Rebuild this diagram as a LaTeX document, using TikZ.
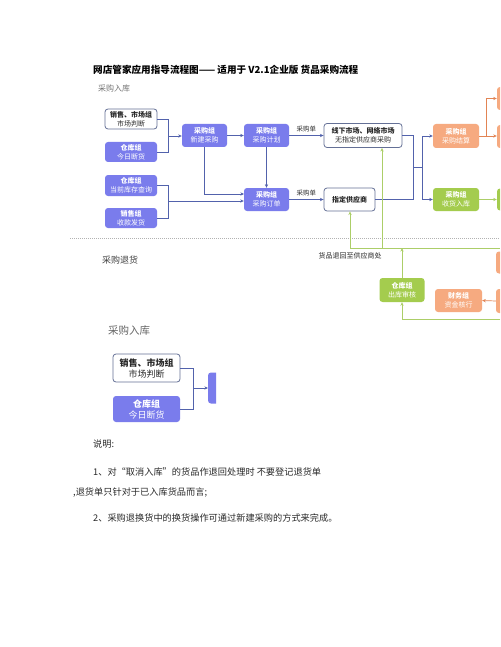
\documentclass[tikz,border=0pt]{standalone}
\usepackage{fontspec}
\setmainfont{Noto Sans CJK SC}
\usetikzlibrary{arrows.meta}
\definecolor{pur}{RGB}{122,124,236}
\definecolor{org}{RGB}{246,170,128}
\definecolor{grn}{RGB}{164,204,78}
\definecolor{linec}{RGB}{82,98,172}
\definecolor{bordc}{RGB}{100,112,150}
\definecolor{gline}{RGB}{172,206,104}
\definecolor{oline}{RGB}{226,132,84}
\definecolor{txt}{RGB}{40,40,40}
\begin{document}
\begin{tikzpicture}[x=1pt,y=-1pt,
  box/.style={rounded corners=3pt, inner sep=0pt, align=center, font=\fontsize{7}{8.6}\selectfont},
  wbox/.style={box, draw=bordc, line width=0.8pt, fill=white, text=txt},
  pbox/.style={box, fill=pur, text=white},
  obox/.style={box, fill=org, text=white},
  gbox/.style={box, fill=grn, text=white},
  arr/.style={-{Stealth[length=3.6pt,width=3.2pt]}},
  bl/.style={draw=linec, line width=0.7pt},
  gl/.style={draw=gline, line width=0.8pt},
  ol/.style={draw=oline, line width=0.7pt},
  lbl/.style={inner sep=0pt, text=txt, font=\fontsize{6.5}{7}\selectfont},
  para/.style={anchor=west, inner sep=0pt, text=txt, font=\fontsize{9.2}{11}\selectfont}]
\useasboundingbox[fill=white] (0,0) rectangle (500,647);
\begin{scope}
\clip (0,0) rectangle (500,647);
% title
\node[para, font=\fontsize{9.6}{11}\selectfont\bfseries, text=black] (title) at (93,70) {网店管家应用指导流程图—— 适用于 V2.1企业版 货品采购流程};
\node[anchor=west, inner sep=0pt, text=black!55, font=\fontsize{8}{9}\selectfont] (h1) at (98,88) {采购入库};
% separator
\draw[black!30, line width=0.6pt, dash pattern=on 1pt off 1pt] (70,238) -- (500,238);
\node[anchor=west, inner sep=0pt, text=black!75, font=\fontsize{9}{10}\selectfont] (h2) at (102,260) {采购退货};

% boxes
\node[wbox, minimum width=52pt, minimum height=20pt] (sm) at (131,119) {\textbf{销售、市场组}\\市场判断};
\node[pbox, minimum width=52pt, minimum height=20pt] (kc1) at (131,152) {\textbf{仓库组}\\今日断货};
\node[pbox, minimum width=52pt, minimum height=21pt] (kc2) at (131,185.5) {\textbf{仓库组}\\当前库存查询};
\node[pbox, minimum width=52pt, minimum height=20pt] (xs) at (131,218) {\textbf{销售组}\\收款发货};
\node[pbox, minimum width=45pt, minimum height=23pt] (xj) at (204.5,135.5) {\textbf{采购组}\\新建采购};
\node[pbox, minimum width=45pt, minimum height=23pt] (jh) at (266.5,135.5) {\textbf{采购组}\\采购计划};
\node[pbox, minimum width=45pt, minimum height=23pt] (dd) at (266.5,199.5) {\textbf{采购组}\\采购订单};
\node[wbox, minimum width=78pt, minimum height=24pt] (xx) at (363,135.5) {\textbf{线下市场、网络市场}\\无指定供应商采购};
\node[wbox, minimum width=51pt, minimum height=23pt] (zd) at (349.5,199.5) {\textbf{指定供应商}};
\node[obox, minimum width=46pt, minimum height=24pt] (js) at (456,136) {\textbf{采购组}\\采购结算};
\node[gbox, minimum width=46pt, minimum height=23pt] (sh) at (456,199.5) {\textbf{采购组}\\收货入库};
\node[obox, minimum width=46pt, minimum height=23pt] (r1) at (520,98.5) {};
\node[obox, minimum width=46pt, minimum height=23pt] (r2) at (520,136.5) {};
\node[gbox, minimum width=46pt, minimum height=22pt] (r3) at (520,199.5) {};
\node[gbox, minimum width=45pt, minimum height=24pt] (ck) at (402,290) {\textbf{仓库组}\\出库审核};
\node[obox, minimum width=47pt, minimum height=23pt] (cw) at (458.5,300.5) {\textbf{财务组}\\资金核行};
\node[obox, minimum width=46pt, minimum height=22pt] (r4) at (519,262.5) {};
\node[obox, minimum width=46pt, minimum height=24pt] (r5) at (519,301) {};

% blue connectors
\coordinate (j1) at (168,136);
\coordinate (j2) at (168,201);
\coordinate (d1) at (244,194);
\draw[bl] (sm.east) -| (j1);
\draw[bl] (kc1.east) -| (j1);
\draw[bl, arr] (j1) -- (j1 -| xj.west);
\draw[bl, arr] (xj) -- (jh);
\draw[bl, arr] (jh) -- (dd);
\draw[bl, arr] (xj.south) |- (d1);
\draw[bl] (kc2.east) -| (j2);
\draw[bl] (xs.east) -| (j2);
\draw[bl, arr] (j2) -- (j2 -| dd.west);
\draw[bl, arr] (jh.east) -- node[lbl, above=3pt] (l1) {采购单} (jh.east -| xx.west);
\draw[bl, arr] (dd.east) -- node[lbl, above=3pt] (l2) {采购单} (dd.east -| zd.west);
\coordinate (k1) at (413,167);
\coordinate (k2) at (422,167);
\draw[bl] (xx.east) -| (k1);
\draw[bl] (zd.east) -| (k1);
\draw[bl] (k1) -- (k2);
\draw[bl, arr] (k2) |- (js.west);
\draw[bl, arr] (k2) |- (sh.west);
% orange connectors
\coordinate (k3) at (486,136);
\draw[ol] (js.east) -- (k3);
\draw[ol, arr] (k3) |- (r1.west);
\draw[ol, arr] (k3) -- (k3 -| r2.west);
\draw[ol, arr] (r5.west) -- (cw.east);
% green connectors
\draw[gl, arr] (sh) -- (r3);
\coordinate (g1) at (350,248);
\coordinate (g2) at (382,248);
\coordinate (g3) at (402,248);
\coordinate (gE) at (500,248);
\coordinate (g4) at (402,319);
\coordinate (g4E) at (500,319);
\draw[gl] (g1) -- (gE);
\draw[gl, arr] (g1) -- (g1 |- zd.south);
\draw[gl, arr] (g2) -- (g2 |- xx.south);
\draw[gl, arr] (ck.north) -- (g3);
\draw[gl] (g4E) -- (g4);
\draw[gl, arr] (g4) -- (ck.south);
\node[lbl, font=\fontsize{7}{8}\selectfont] (l3) at (350,256) {货品退回至供应商处};

% repeated fragment
\node[anchor=west, inner sep=0pt, text=black!60, font=\fontsize{10.5}{12}\selectfont] (h3) at (108,331) {采购入库};
\node[wbox, font=\fontsize{9}{11}\selectfont, minimum width=67pt, minimum height=28pt] (sm2) at (146.5,368) {\textbf{销售、市场组}\\市场判断};
\node[pbox, font=\fontsize{9}{11}\selectfont, minimum width=67pt, minimum height=26pt] (kcb) at (146.5,409) {\textbf{仓库组}\\今日断货};
\begin{scope}
\clip (200,360) rectangle (216,410);
\node[pbox, minimum width=58pt, minimum height=31pt] (xj2) at (237,388) {};
\end{scope}
\coordinate (j3) at (193,388);
\draw[bl] (sm2.east) -| (j3);
\draw[bl] (kcb.east) -| (j3);
\draw[bl, arr] (j3) -- (208,388);

% notes
\node[para] (n0) at (93,444) {说明:};
\node[para] (n1) at (93,472) {1、对“取消入库”的货品作退回处理时 不要登记退货单};
\node[para] (n2) at (73,492) {,退货单只针对于已入库货品而言;};
\node[para] (n3) at (93,518) {2、采购退换货中的换货操作可通过新建采购的方式来完成。};
\end{scope}
\end{tikzpicture}
\end{document}
